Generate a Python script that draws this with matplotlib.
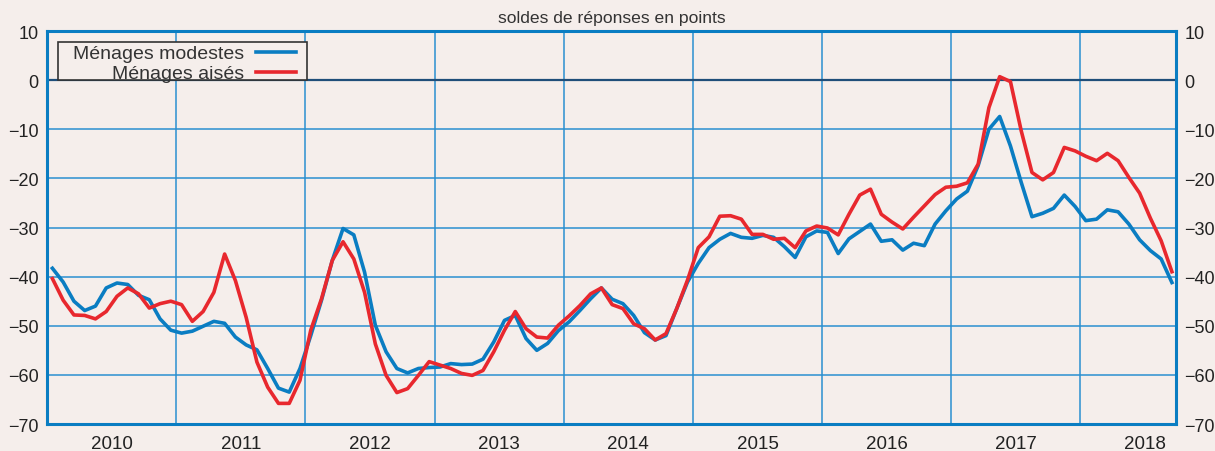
import numpy as np
import matplotlib.pyplot as plt
from matplotlib.patches import Rectangle

# soldes mensuels, janvier 2010 -> septembre 2018
modestes = [
    -38.3, -41.1, -45.0, -46.9, -46.0, -42.3, -41.3, -41.6, -43.8, -44.7, -48.6, -50.9,  # 2010
    -51.5, -51.1, -50.1, -49.1, -49.5, -52.3, -53.9, -54.9, -58.7, -62.7, -63.5, -58.7,  # 2011
    -52.0, -44.8, -36.7, -30.2, -31.5, -39.1, -49.9, -55.3, -58.7, -59.6, -58.7, -58.5,  # 2012
    -58.4, -57.7, -57.9, -57.8, -56.8, -53.3, -48.9, -47.9, -52.6, -55.0, -53.6, -51.0,  # 2013
    -49.2, -46.9, -44.5, -42.3, -44.6, -45.5, -47.9, -51.4, -52.9, -52.0, -46.5, -41.1,  # 2014
    -37.3, -34.1, -32.4, -31.2, -32.0, -32.2, -31.6, -32.0, -33.9, -36.1, -31.9, -30.7,  # 2015
    -31.0, -35.3, -32.3, -30.8, -29.3, -32.8, -32.5, -34.6, -33.2, -33.7, -29.3, -26.6,  # 2016
    -24.2, -22.6, -17.4, -10.0, -7.4, -13.4, -20.8, -27.8, -27.1, -26.1, -23.4, -25.7,   # 2017
    -28.6, -28.3, -26.4, -26.8, -29.3, -32.5, -34.7, -36.4, -41.2,                       # 2018
]
aises = [
    -40.4, -44.8, -47.8, -47.9, -48.6, -47.1, -44.0, -42.3, -43.5, -46.4, -45.5, -45.0,  # 2010
    -45.7, -49.1, -47.1, -43.2, -35.4, -40.8, -48.3, -57.4, -62.5, -65.8, -65.8, -61.1,  # 2011
    -50.9, -44.5, -36.7, -32.9, -36.4, -43.2, -53.7, -60.1, -63.6, -62.8, -60.1, -57.3,  # 2012
    -58.0, -58.7, -59.7, -60.1, -59.1, -55.3, -50.9, -47.1, -50.6, -52.3, -52.5, -49.9,  # 2013
    -48.0, -45.9, -43.5, -42.3, -45.7, -46.5, -49.6, -50.6, -52.9, -51.6, -46.5, -40.7,  # 2014
    -34.1, -31.9, -27.7, -27.6, -28.3, -31.4, -31.4, -32.4, -32.2, -34.1, -30.7, -29.7,  # 2015
    -30.1, -31.5, -27.3, -23.4, -22.2, -27.3, -28.9, -30.3, -27.9, -25.6, -23.3, -21.8,  # 2016
    -21.6, -20.9, -17.1, -5.6, 0.7, -0.3, -10.3, -18.8, -20.3, -18.8, -13.7, -14.4,      # 2017
    -15.5, -16.4, -14.9, -16.4, -19.8, -23.0, -28.1, -32.7, -39.0,                       # 2018
]
years = list(range(2010, 2019))
labels = ["Ménages modestes", "Ménages aisés"]

bg = "#f5eeeb"
blue = "#0a7dc2"
red = "#e8282e"
grid_col = "#2a8fd0"

plt.rcParams["font.family"] = ["Liberation Sans", "DejaVu Sans"]

# points au milieu de chaque mois
x = 2010 + (np.arange(len(modestes)) + 0.5) / 12

fig = plt.figure(figsize=(12.15, 4.52), dpi=100, facecolor=bg)
ax = fig.add_axes([0.0387, 0.0597, 0.9292, 0.8695], facecolor=bg)

ax.plot(x, modestes, color=blue, lw=2.6, label=labels[0], zorder=3)
ax.plot(x, aises, color=red, lw=2.6, label=labels[1], zorder=4)

ax.set_xlim(2010, 2018.74)
ax.set_ylim(-70, 10)

ax.set_yticks(range(-70, 11, 10))
ax.set_xticks(years[1:])
ax.set_xticklabels([])
ax.set_xticks([y + 0.5 for y in years], minor=True)
ax.set_xticklabels([str(y) for y in years], minor=True, fontsize=13.5)
ax.tick_params(axis="x", which="both", length=0, pad=8, colors="#222222")
ax.tick_params(axis="y", length=0, pad=6, labelsize=13, colors="#222222",
               labelleft=True, labelright=True)

ax.grid(True, which="major", color=grid_col, lw=1.1)
ax.axhline(0, color="#1f4e79", lw=1.6, zorder=2)
ax.set_axisbelow(True)

for s in ax.spines.values():
    s.set_color(blue)
    s.set_linewidth(2.2)

ax.text(0.5, 1.016, "soldes de réponses en points", transform=ax.transAxes,
        ha="center", va="bottom", fontsize=12.6, color="#333333")

# cadre de la légende dessiné à part
ax.add_patch(Rectangle((0.0097, 0.875), 0.2206, 0.0967, transform=ax.transAxes,
                       facecolor=bg, edgecolor="#333333", lw=1.2, zorder=5))
leg = ax.legend(loc="upper right", bbox_to_anchor=(0.2206, 0.965), markerfirst=False,
                fontsize=14, frameon=False, handlelength=2.05, handletextpad=0.6,
                borderpad=0, labelspacing=0.12, borderaxespad=0)
leg.set_zorder(6)
for t in leg.get_texts():
    t.set_color("#333333")

fig.savefig("out.png", dpi=100, facecolor=bg)
